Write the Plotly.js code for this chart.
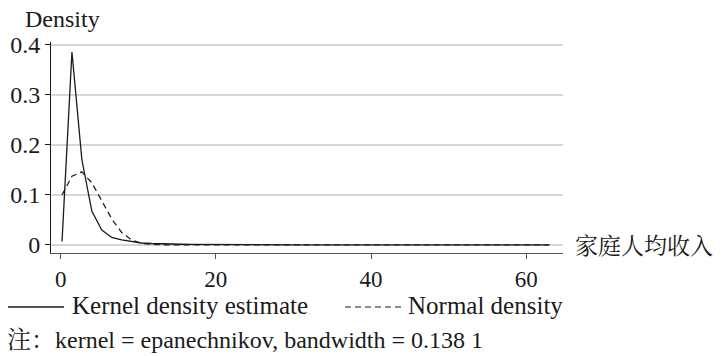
<!DOCTYPE html>
<html>
<head>
<meta charset="utf-8">
<script src="https://cdn.plot.ly/plotly-3.0.1.min.js"></script>
<style>
html,body{margin:0;padding:0;background:#fff;font-family:'Liberation Serif',serif;overflow:hidden;}
#chart{width:727px;height:356px;}
#chart text{font-family:'Liberation Serif','Noto Serif CJK SC',serif !important;}
#fontwarm{position:absolute;left:0;top:600px;font-family:'Liberation Serif';font-size:20px;}
#fontwarm2{position:absolute;left:0;top:640px;font-family:'Noto Serif CJK SC';font-size:20px;}
</style>
</head>
<body>
<div id="chart"></div>
<div id="fontwarm">Density 0.1</div>
<div id="fontwarm2">家庭人均收入注</div>
<script>
// Evaluation grid (income)
const incomeGrid = [0.17, 1.45, 2.73, 4.02, 5.30, 6.58, 7.86, 9.14, 10.43, 11.71, 12.99, 14.27, 15.55, 16.84, 18.12, 19.40, 20.68, 21.96, 23.25, 24.53, 25.81, 27.09, 28.37, 29.66, 30.94, 32.22, 33.50, 34.78, 36.07, 37.35, 38.63, 39.91, 41.19, 42.48, 43.76, 45.04, 46.32, 47.60, 48.89, 50.17, 51.45, 52.73, 54.01, 55.30, 56.58, 57.86, 59.14, 60.42, 61.71, 62.99];
// Kernel density estimate
const kernelDensity = [0.007, 0.385, 0.170, 0.067, 0.030, 0.015, 0.010, 0.007, 0.004, 0.003, 0.002, 0.0018, 0.0015, 0.0012, 0.0010, 0.0009, 0.0008, 0.0007, 0.0006, 0.0006, 0.0005, 0.0005, 0.0004, 0.0004, 0.0004, 0.0003, 0.0003, 0.0003, 0.0003, 0.0002, 0.0002, 0.0002, 0.0002, 0.0002, 0.0002, 0.0002, 0.0001, 0.0001, 0.0001, 0.0001, 0.0001, 0.0001, 0.0001, 0.0001, 0.0001, 0.0001, 0.0001, 0.0001, 0.0001, 0.0001];
// Normal density
const normalDensity = [0.100, 0.137, 0.146, 0.124, 0.088, 0.052, 0.025, 0.010, 0.003, 0.001, 0.0003, 0.0001, 0, 0, 0, 0, 0, 0, 0, 0, 0, 0, 0, 0, 0, 0, 0, 0, 0, 0, 0, 0, 0, 0, 0, 0, 0, 0, 0, 0, 0, 0, 0, 0, 0, 0, 0, 0, 0, 0];
const seriesNames = ["Kernel density estimate", "Normal density"];
const xTicks = [0, 20, 40, 60];
const yTicks = [0, 0.1, 0.2, 0.3, 0.4];
const yTickLabels = ["0", "0.1", "0.2", "0.3", "0.4"];
const yTitle = "Density";
const xTitle = "家庭人均收入";
const noteText = "注：kernel = epanechnikov, bandwidth = 0.138 1";

const serif = "Liberation Serif";
const ink = "#1a1a1a";

const lineStyles = [
  {color: ink, width: 1.3},
  {color: ink, width: 1.2, dash: "6px,4px"}
];

const traces = seriesNames.map((nm, i) => ({
  x: incomeGrid, y: i === 0 ? kernelDensity : normalDensity, name: nm,
  type: "scatter", mode: "lines", line: lineStyles[i], showlegend: false
}));

// Custom legend (sample lines + labels) below the plot, in paper coordinates
const plotL = 51, plotW = 512, plotB = 253, plotH = 211;
const px = v => (v - plotL) / plotW;
const py = v => (plotB - v) / plotH;
const legendY = 307;
const legendItems = [
  {x0: 8, x1: 64, tx: 70},
  {x0: 345, x1: 404, tx: 406}
];

const shapes = legendItems.map((it, i) => ({
  type: "line", xref: "paper", yref: "paper",
  x0: px(it.x0), x1: px(it.x1), y0: py(legendY), y1: py(legendY),
  line: Object.assign({}, lineStyles[i])
}));

const annotations = legendItems.map((it, i) => ({
  text: seriesNames[i], xref: "paper", yref: "paper", x: px(it.tx), y: py(legendY - 2),
  xanchor: "left", yanchor: "middle", showarrow: false, font: {family: serif, size: 25, color: ink}
}));
annotations.push(
  {text: yTitle, xref: "paper", yref: "paper", x: px(23), y: py(19), xanchor: "left", yanchor: "middle",
   showarrow: false, font: {family: serif, size: 24, color: ink}},
  {text: xTitle, xref: "paper", yref: "y", x: px(573), y: 0, xanchor: "left", yanchor: "middle",
   showarrow: false, font: {family: "Noto Serif CJK SC", size: 23, color: ink}},
  {text: noteText, xref: "paper", yref: "paper", x: px(5), y: py(340), xanchor: "left", yanchor: "middle",
   showarrow: false, font: {family: serif, size: 24, color: ink}}
);

const layout = {
  width: 727, height: 356,
  margin: {l: 51, r: 164, t: 42, b: 103},
  paper_bgcolor: "#fff", plot_bgcolor: "#fff",
  font: {family: serif, size: 22, color: ink},
  showlegend: false,
  xaxis: {range: [-1.25, 64.75], tickvals: xTicks, ticks: "outside", ticklen: 5,
          tickcolor: "#555", showline: true, linecolor: "#555", linewidth: 1,
          showgrid: false, zeroline: false, tickfont: {family: serif, size: 23, color: ink}},
  yaxis: {range: [-0.016, 0.405], tickvals: yTicks, ticktext: yTickLabels, ticks: "outside",
          ticklen: 5, tickcolor: ink, showline: true, linecolor: ink, linewidth: 1,
          showgrid: true, gridcolor: "#d6d6d6", gridwidth: 1.5, zeroline: false,
          tickfont: {family: serif, size: 24, color: ink}},
  shapes: shapes,
  annotations: annotations
};

const config = {displayModeBar: false};
Plotly.newPlot("chart", traces, layout, config);
// Redraw once the serif fonts are confirmed loaded
if (document.fonts && document.fonts.load) {
  Promise.all([
    document.fonts.load('24px "Liberation Serif"'),
    document.fonts.load('24px "Noto Serif CJK SC"', '家庭人均收入')
  ]).then(() => Plotly.react("chart", traces, layout, config)).catch(() => {});
}
</script>
</body>
</html>
